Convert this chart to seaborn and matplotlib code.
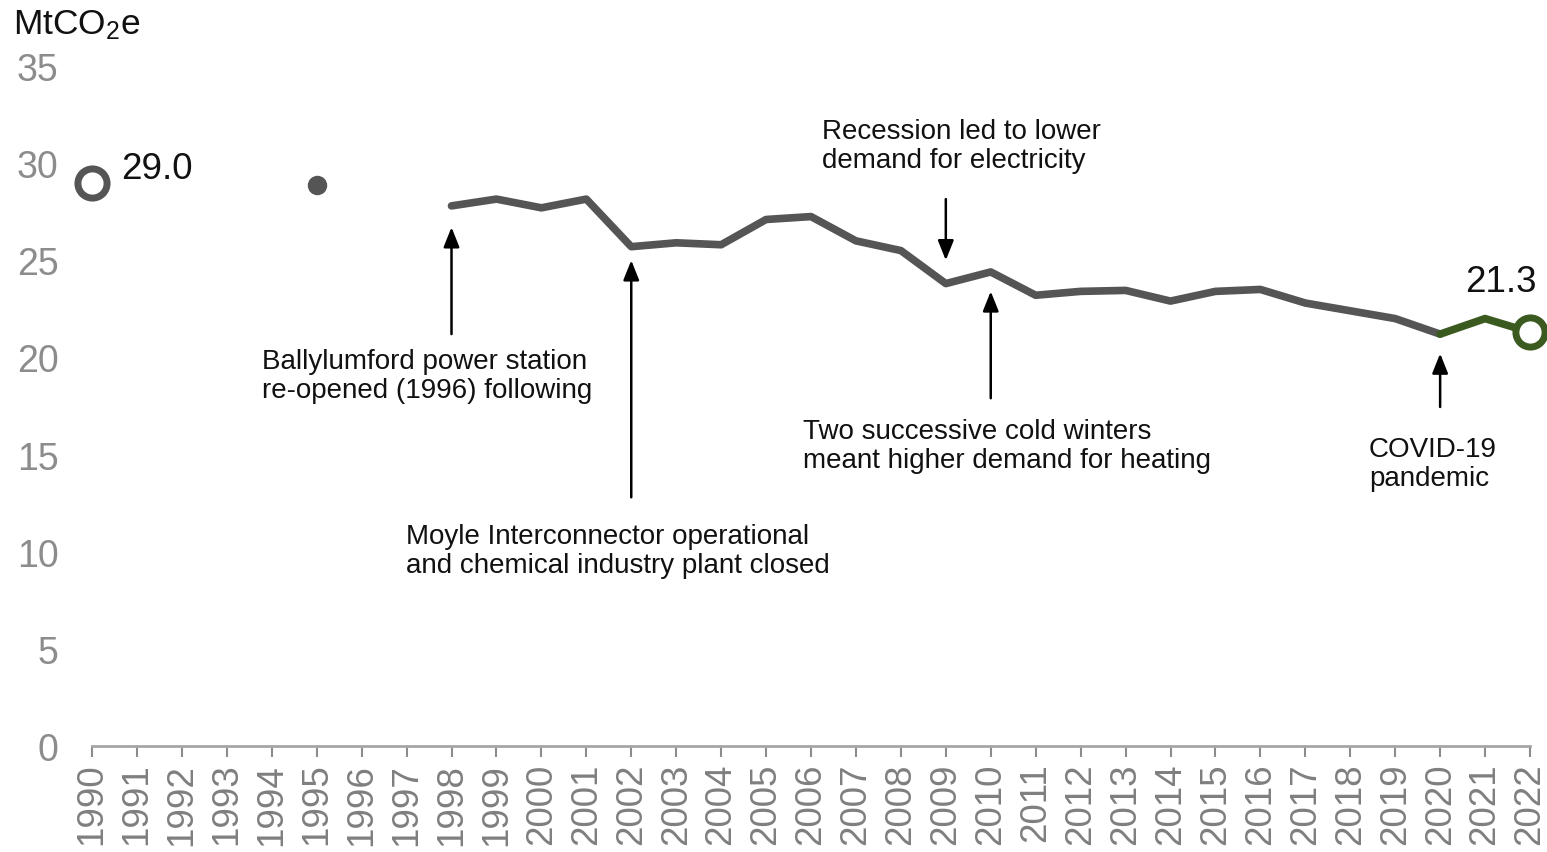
import matplotlib
matplotlib.use("Agg")
import matplotlib.pyplot as plt
import seaborn as sns
import pandas as pd

# data
years = list(range(1998, 2021))
values = [27.8, 28.15, 27.7, 28.15, 25.7, 25.9, 25.8, 27.1, 27.25, 26.0, 25.5,
          23.8, 24.4, 23.2, 23.4, 23.45, 22.9, 23.4, 23.5, 22.8, 22.4, 22.0, 21.2]
recent_years = [2020, 2021, 2022]
recent_values = [21.2, 22.0, 21.3]
base_year, base_value = 1990, 29.0
dot_year, dot_value = 1995, 28.9
year_ticks = list(range(1990, 2023))
y_ticks = [0, 5, 10, 15, 20, 25, 30, 35]

sns.set_theme(style="white")
plt.rcParams["font.family"] = ["Liberation Sans", "DejaVu Sans"]
plt.rcParams["mathtext.fontset"] = "custom"
plt.rcParams["mathtext.rm"] = "Liberation Sans"
plt.rcParams["mathtext.default"] = "regular"

grey = "#555555"
green = "#3b5a1f"

fig = plt.figure(figsize=(15.47, 8.53), dpi=100)
ax = fig.add_axes([92 / 1547, 1 - 747 / 853, (1530 - 92) / 1547, (747 - 67) / 853])

main = pd.DataFrame({"year": years, "value": values})
tail = pd.DataFrame({"year": recent_years, "value": recent_values})
sns.lineplot(data=main, x="year", y="value", color=grey, linewidth=5.5, ax=ax)
sns.lineplot(data=tail, x="year", y="value", color=green, linewidth=5.5, ax=ax)

ax.plot([base_year], [base_value], "o", ms=21, mfc="white", mec=grey, mew=5, clip_on=False, zorder=5)
ax.plot([dot_year], [dot_value], "o", ms=13, color=grey, clip_on=False, zorder=5)
ax.plot([recent_years[-1]], [recent_values[-1]], "o", ms=21, mfc="white", mec=green, mew=5,
        clip_on=False, zorder=5)

ax.set_xlim(1990, 2022)
ax.set_ylim(0, 35)
ax.set_xticks(year_ticks)
ax.set_xticklabels([str(y) for y in year_ticks], rotation=90, fontsize=26.5, color="#7f7f7f")
ax.set_yticks(y_ticks)
ax.set_yticklabels([str(v) for v in y_ticks], fontsize=27, color="#8c8c8c")
ax.tick_params(axis="y", length=0, pad=24)
ax.tick_params(axis="x", length=8, width=1.5, color="#8c8c8c", direction="out", pad=4, bottom=True)
ax.set_xlabel("")
ax.set_ylabel("")
sns.despine(ax=ax, left=True, top=True, right=True)
ax.spines["bottom"].set_color("#a6a6a6")
ax.spines["bottom"].set_linewidth(2)

fig.text(13 / 1547, 1 - 25 / 853, "MtCO$_2$e", fontsize=25.5, color="#111111", va="center", ha="left")
ax.text(1990.65, 29.7, "29.0", fontsize=26.5, color="#111111", va="center", ha="left")
ax.text(2020.55, 23.9, "21.3", fontsize=26.5, color="#111111", va="center", ha="left")

arrow = dict(arrowstyle="-|>,head_length=1.0,head_width=0.4", color="black", lw=1.8, shrinkA=0, shrinkB=0)
arrows = [
    (1998, 21.2, 26.7),
    (2002, 12.8, 25.0),
    (2009, 28.15, 25.0),
    (2010, 17.9, 23.4),
    (2020, 17.45, 20.2),
]
for x, y0, y1 in arrows:
    ax.annotate("", xy=(x, y1), xytext=(x, y0), arrowprops=arrow)

notes = [
    (1993.78, 20.5, "Ballylumford power station\nre-opened (1996) following"),
    (1996.99, 11.5, "Moyle Interconnector operational\nand chemical industry plant closed"),
    (2006.24, 32.3, "Recession led to lower\ndemand for electricity"),
    (2005.82, 16.9, "Two successive cold winters\nmeant higher demand for heating"),
    (2018.42, 15.95, "COVID-19\npandemic"),
]
for x, y, s in notes:
    ax.text(x, y, s, fontsize=20, color="#111111", va="top", ha="left", linespacing=1.15)

plt.savefig("out.png", dpi=100)
